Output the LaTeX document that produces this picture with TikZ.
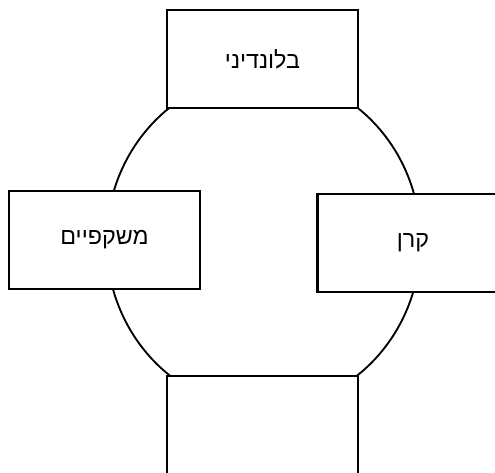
\documentclass[tikz,border=0pt]{standalone}
\usepackage{fontspec}
\newfontfamily\hebfont[Script=Hebrew]{Liberation Sans}
\TeXXeTstate=1
\usetikzlibrary{positioning}
\tikzset{
  seatbox/.style={rectangle, draw=black, line width=1.6pt, fill=white,
                  minimum width=143.25pt, minimum height=73.5pt,
                  inner sep=0pt, font=\hebfont\fontsize{17.5}{21}\selectfont},
  ring/.style={draw=black, line width=1.4pt},
}

\begin{document}
\begin{tikzpicture}[x=0.75pt, y=-0.75pt]
  \useasboundingbox (0,0) rectangle (495,472);
  \clip (0,0) rectangle (495,472);
  \coordinate (mid) at (263.5,241.5);
  \draw[ring] (mid) ellipse [x radius=157, y radius=167];
  \node[seatbox] (top)    at (262.5,59)  {\beginR בלונדיני\endR};
  \node[seatbox] (left)   at (104.5,240) {\beginR משקפיים\endR};
  \node[seatbox] (right)  at (413,243)   {\beginR קרן\endR};
  \node[seatbox, anchor=north, minimum height=90pt] (bottom) at (262.5,375) {};
\end{tikzpicture}
\end{document}
